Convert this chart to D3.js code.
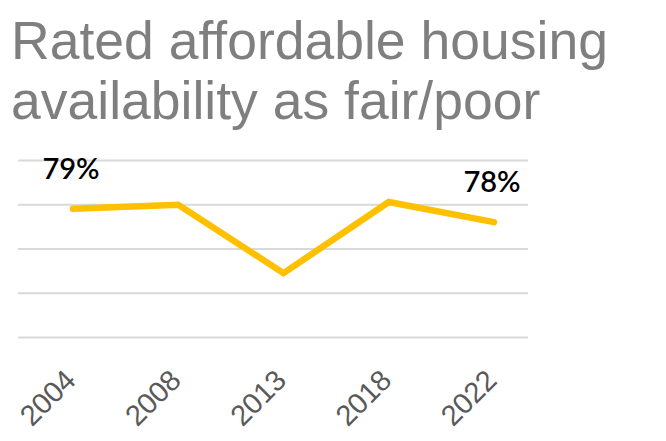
<!DOCTYPE html>
<html>
<head>
<meta charset="utf-8">
<script src="https://cdn.jsdelivr.net/npm/d3@7"></script>
<style>
  body { margin: 0; background: #fff; }
  svg { display: block; }
</style>
</head>
<body>
<svg id="chart" width="666" height="441"></svg>
<script>
// data
var years = ["2004", "2008", "2013", "2018", "2022"]
var shares = [79, 79.3, 74.2, 79.5, 78]
var labelled = ["2004", "2022"]
var titleLines = ["Rated affordable housing", "availability as fair/poor"]
var yDomain = [69.4, 82.6]

var svg = d3.select("#chart")

var x = d3.scalePoint().domain(years).range([73, 494])
var y = d3.scaleLinear().domain(yDomain).range([337.5, 160.5])

// title
svg.append("g").selectAll("text")
  .data(titleLines)
  .enter().append("text")
  .attr("x", 11)
  .attr("y", function(d, i){ return 59 + i * 60 })
  .style("font-family", "'Liberation Sans', Arial, sans-serif")
  .style("font-size", "53.5px")
  .style("fill", "#7f7f7f")
  .text(function(d){ return d })

// gridlines, 4 equal steps over the domain
var gridVals = d3.range(5).map(function(i){
  return yDomain[0] + i * (yDomain[1] - yDomain[0]) / 4
})
svg.append("g").selectAll("line")
  .data(gridVals)
  .enter().append("line")
  .attr("x1", 18).attr("x2", 528)
  .attr("y1", function(d){ return y(d) })
  .attr("y2", function(d){ return y(d) })
  .style("stroke", "#d9d9d9")
  .style("stroke-width", 2)

// x axis, rotated labels
var xAxis = svg.append("g")
  .attr("transform", "translate(4,382)")
  .call(d3.axisBottom(x).tickSize(0).tickPadding(0))
xAxis.select(".domain").remove()
xAxis.selectAll("text")
  .attr("dy", 0)
  .attr("y", 0)
  .attr("transform", "rotate(-45)")
  .style("text-anchor", "end")
  .style("font-family", "'Liberation Sans', Arial, sans-serif")
  .style("font-size", "29px")
  .style("fill", "#595959")

// the line
var pts = years.map(function(yr, i){ return { year: yr, v: shares[i] } })
var line = d3.line()
  .x(function(d){ return x(d.year) })
  .y(function(d){ return y(d.v) })

svg.append("path")
  .datum(pts)
  .attr("d", line)
  .style("fill", "none")
  .style("stroke", "#ffc000")
  .style("stroke-width", 6.5)
  .style("stroke-linecap", "round")
  .style("stroke-linejoin", "miter")

// end labels
svg.append("g").selectAll("text")
  .data(pts.filter(function(d){ return labelled.indexOf(d.year) > -1 }))
  .enter().append("text")
  .attr("x", function(d){ return x(d.year) - 2 })
  .attr("y", function(d){ return y(d.v) - 30 })
  .style("text-anchor", "middle")
  .style("font-family", "Lato, sans-serif")
  .style("font-weight", 600)
  .style("font-size", "29px")
  .style("fill", "#000")
  .text(function(d){ return Math.round(d.v) + "%" })
</script>
</body>
</html>
